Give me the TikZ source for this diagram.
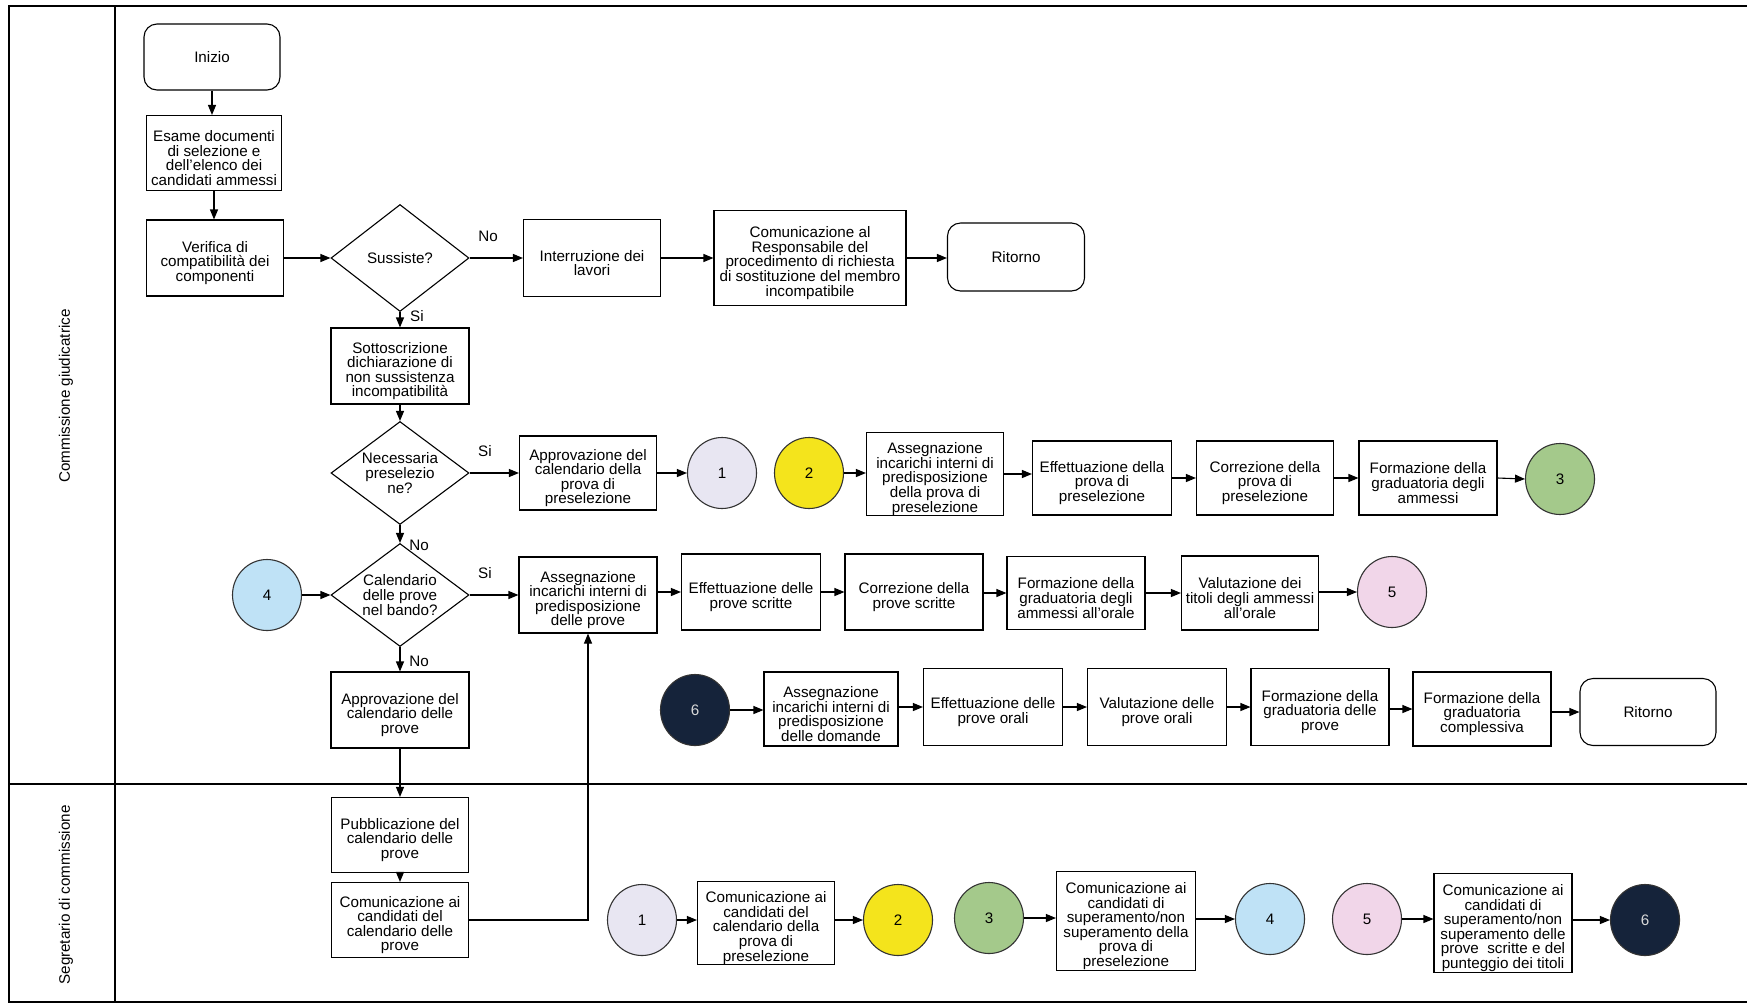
\documentclass[tikz,border=0pt]{standalone}
\usepackage{fontspec}
\setmainfont{Liberation Sans}
\usetikzlibrary{shapes.geometric,arrows.meta}
\definecolor{cone}{HTML}{E8E6F2}
\definecolor{ctwo}{HTML}{F4E41C}
\definecolor{cthree}{HTML}{A4C98B}
\definecolor{cfour}{HTML}{BFE2F6}
\definecolor{cfive}{HTML}{F1D6E9}
\definecolor{csix}{HTML}{15233A}
\newcommand\fl{\rule{0pt}{21pt}}
\begin{document}
\begin{tikzpicture}[x=1pt,y=-1pt,
  every node/.style={font=\fontsize{15.2}{14.6}\selectfont},
  box/.style={draw, line width=1.1pt, align=center, inner sep=0pt, fill=white,
    minimum width=137pt, minimum height=75pt},
  term/.style={box, rounded corners=13pt},
  dec/.style={draw, line width=1.1pt, diamond, aspect=1.33, align=center, inner sep=0pt,
    fill=white, minimum width=138pt, minimum height=103pt},
  circ/.style={draw=black!80, line width=1.1pt, ellipse, inner sep=0pt,
    minimum width=69pt, minimum height=71pt},
  conn/.style={draw, line width=1.1pt, -{Triangle[length=10pt,width=8pt]}},
  frame/.style={line width=2.6pt},
  lbl/.style={inner sep=0pt}
]
\useasboundingbox (0,0) rectangle (1747,1005);
% frame
\draw[frame] (1747,6) -- (9,6) -- (9,1002) -- (1747,1002);
\draw[frame] (115,6) -- (115,1002);
\draw[frame] (9,784) -- (1747,784);
\node[rotate=90] (lane1) at (66,396) {Commissione giudicatrice};
\node[rotate=90] (lane2) at (66,895) {Segretario di commissione};

% row A
\node[term, minimum width=136pt, minimum height=66pt] (inizio) at (212,57) {Inizio};
\node[box, minimum width=135pt] (esame) at (214,153) {\fl Esame documenti\\di selezione e\\dell'elenco dei\\candidati ammessi};
\node[box, minimum height=76pt] (verifica) at (215,258) {\fl Verifica di\\compatibilità dei\\componenti};
\node[dec, minimum height=107pt] (sussiste) at (400,258) {Sussiste?};
\node[box, minimum height=77pt] (interr) at (592,258) {\fl Interruzione dei\\lavori};
\node[box, minimum width=192pt, minimum height=95pt] (comresp) at (810,258) {\fl Comunicazione al\\Responsabile del\\procedimento di richiesta\\di sostituzione del membro\\incompatibile};
\node[term, minimum height=68pt] (rit1) at (1016,257) {Ritorno};

\node[box, minimum width=138pt, minimum height=76pt] (sottos) at (400,366) {\fl Sottoscrizione\\dichiarazione di\\non sussistenza\\incompatibilità};

% row B
\node[dec] (necess) at (400,473) {Necessaria\\preselezio\\ne?};
\node[box, minimum height=74pt] (apprpres) at (588,473) {\fl Approvazione del\\calendario della\\prova di\\preselezione};
\node[circ, fill=cone] (c1) at (722,473) {1};
\node[circ, fill=ctwo] (c2) at (809,473) {2};
\node[box, minimum height=81pt] (asspres) at (935,474) {\fl Assegnazione\\incarichi interni di\\predisposizione\\della prova di\\preselezione};
\node[box, minimum width=139pt, minimum height=74pt] (effpres) at (1102,478) {\fl Effettuazione della\\prova di\\preselezione};
\node[box, minimum height=74pt] (corrpres) at (1265,478) {\fl Correzione della\\prova di\\preselezione};
\node[box, minimum width=138pt, minimum height=74pt] (formamm) at (1428,478) {\fl Formazione della\\graduatoria degli\\ammessi};
\node[circ, fill=cthree] (c3) at (1560,479) {3};

% row C
\node[circ, fill=cfour] (c4) at (267,595) {4};
\node[dec] (calend) at (400,595) {Calendario\\delle prove\\nel bando?};
\node[box, minimum width=138pt, minimum height=76pt] (assprove) at (588,595) {\fl Assegnazione\\incarichi interni di\\predisposizione\\delle prove};
\node[box, minimum width=139pt, minimum height=76pt] (effscr) at (751,592) {\fl Effettuazione delle\\prove scritte};
\node[box, minimum width=138pt, minimum height=76pt] (corrscr) at (914,592) {\fl Correzione della\\prove scritte};
\node[box, minimum width=138pt, minimum height=73pt] (formor) at (1076,593) {\fl Formazione della\\graduatoria degli\\ammessi all'orale};
\node[box, minimum height=74pt] (valtit) at (1250,593) {\fl Valutazione dei\\titoli degli ammessi\\all'orale};
\node[circ, fill=cfive] (c5) at (1392,592) {5};

% row D
\node[box, minimum width=138pt, minimum height=76pt] (apprprove) at (400,710) {\fl Approvazione del\\calendario delle\\prove};
\node[circ, fill=csix, text=white!85!black] (c6) at (695,710) {6};
\node[box, minimum width=134pt, minimum height=74pt] (assdom) at (831,709) {\fl Assegnazione\\incarichi interni di\\predisposizione\\delle domande};
\node[box, minimum width=139pt, minimum height=77pt] (effor) at (993,707) {\fl Effettuazione delle\\prove orali};
\node[box, minimum width=139pt, minimum height=77pt] (valor) at (1157,707) {\fl Valutazione delle\\prove orali};
\node[box, minimum width=138pt, minimum height=77pt] (formprove) at (1320,707) {\fl Formazione della\\graduatoria delle\\prove};
\node[box, minimum width=138pt, minimum height=74pt] (formcompl) at (1482,709) {\fl Formazione della\\graduatoria\\complessiva};
\node[term, minimum width=136pt, minimum height=67pt] (rit2) at (1648,712) {Ritorno};

% bottom lane
\node[box] (pubb) at (400,835) {\fl Pubblicazione del\\calendario delle\\prove};
\node[box] (comcal) at (400,920) {\fl Comunicazione ai\\candidati del\\calendario delle\\prove};
\node[circ, fill=cone] (c1b) at (642,920) {1};
\node[box, minimum height=81pt] (compres) at (766,923) {\fl Comunicazione ai\\candidati del\\calendario della\\prova di\\preselezione};
\node[circ, fill=ctwo] (c2b) at (898,920) {2};
\node[circ, fill=cthree] (c3b) at (989,918) {3};
\node[box, minimum width=139pt, minimum height=99pt] (comsup1) at (1126,921) {\fl Comunicazione ai\\candidati di\\superamento/non\\superamento della\\prova di\\preselezione};
\node[circ, fill=cfour] (c4b) at (1270,919) {4};
\node[circ, fill=cfive] (c5b) at (1367,919) {5};
\node[box, minimum width=138pt, minimum height=99pt] (comsup2) at (1503,923) {\fl Comunicazione ai\\candidati di\\superamento/non\\superamento delle\\prove\ \ scritte e del\\punteggio dei titoli};
\node[circ, fill=csix, text=white!85!black] (c6b) at (1645,920) {6};

% labels
\node[lbl] (lno1) at (488,236) {No};
\node[lbl] (lsi1) at (417,316) {Si};
\node[lbl] (lsi2) at (485,451) {Si};
\node[lbl] (lno2) at (419,545) {No};
\node[lbl] (lsi3) at (485,573) {Si};
\node[lbl] (lno3) at (419,661) {No};

% connectors
\draw[conn] (inizio.south) -- (inizio.south |- esame.north);
\draw[conn] (esame.south) -- (esame.south |- verifica.north);
\draw[conn] (verifica.east) -- (sussiste.west);
\draw[conn] (sussiste.east) -- (interr.west);
\draw[conn] (interr.east) -- (comresp.west);
\draw[conn] (comresp.east) -- (rit1.west |- comresp.east);
\draw[conn] (sussiste.south) -- (sottos.north);
\draw[conn] (sottos.south) -- (necess.north);
\draw[conn] (necess.east) -- (apprpres.west);
\draw[conn] (apprpres.east) -- (c1.west);
\draw[conn] (c2.east) -- (asspres.west |- c2.east);
\draw[conn] (asspres.east) -- (asspres.east -| effpres.west);
\draw[conn] (effpres.east) -- (corrpres.west);
\draw[conn] (corrpres.east) -- (formamm.west);
\draw[conn] (formamm.east) -- (c3.west);
\draw[conn] (necess.south) -- (calend.north);
\draw[conn] (c4.east) -- (calend.west);
\draw[conn] (calend.east) -- (assprove.west);
\draw[conn] (assprove.east |- effscr.west) -- (effscr.west);
\draw[conn] (effscr.east) -- (corrscr.west);
\draw[conn] (corrscr.east |- formor.west) -- (formor.west);
\draw[conn] (formor.east |- valtit.west) -- (valtit.west);
\draw[conn] (valtit.east |- c5.west) -- (c5.west);
\draw[conn] (calend.south) -- (apprprove.north);
\draw[conn] (apprprove.south) -- (pubb.north);
\draw[conn] (pubb.south) -- (comcal.north);
\draw[conn] (comcal.east) -- (comcal.east -| assprove.south) -- (assprove.south);
\draw[conn] (c6.east) -- (c6.east -| assdom.west);
\draw[conn] (assdom.east |- effor.west) -- (effor.west);
\draw[conn] (effor.east) -- (valor.west);
\draw[conn] (valor.east) -- (formprove.west);
\draw[conn] (formprove.east |- formcompl.west) -- (formcompl.west);
\draw[conn] (formcompl.east |- rit2.west) -- (rit2.west);
\draw[conn] (c1b.east) -- (c1b.east -| compres.west);
\draw[conn] (compres.east |- c2b.west) -- (c2b.west);
\draw[conn] (c3b.east) -- (c3b.east -| comsup1.west);
\draw[conn] (comsup1.east |- c4b.west) -- (c4b.west);
\draw[conn] (c5b.east) -- (c5b.east -| comsup2.west);
\draw[conn] (comsup2.east |- c6b.west) -- (c6b.west);
\end{tikzpicture}
\end{document}
